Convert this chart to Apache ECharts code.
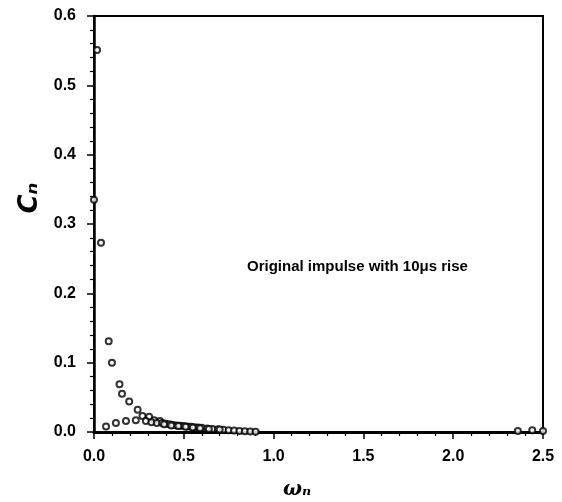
<!DOCTYPE html>
<html>
<head>
<meta charset="utf-8">
<script src="https://cdn.jsdelivr.net/npm/echarts@6/dist/echarts.min.js"></script>
<style>html,body{margin:0;padding:0;background:#fff;}#c{width:562px;height:502px;}</style>
</head>
<body>
<div id="c"></div>
<script>
// omega_n values and C_n values
const upperX = [0.0, 0.017, 0.039, 0.082, 0.100, 0.142, 0.156, 0.196, 0.243, 0.270, 0.307, 0.335, 0.367];
const upperY = [0.335, 0.551, 0.273, 0.131, 0.100, 0.069, 0.055, 0.044, 0.032, 0.023, 0.022, 0.017, 0.016];
const lowerX = [0.067, 0.122, 0.178, 0.233, 0.289, 0.320, 0.350];
const lowerY = [0.008, 0.013, 0.016, 0.017, 0.016, 0.014, 0.013];
const tailX = [0.38, 0.40, 0.42, 0.44, 0.46, 0.48, 0.50, 0.52, 0.54, 0.56, 0.58, 0.60, 0.63, 0.66, 0.69, 0.72, 0.75, 0.78, 0.81, 0.84, 0.87, 0.90,
  0.39, 0.43, 0.47, 0.51, 0.55, 0.59, 0.64, 0.70,
  2.36, 2.44, 2.50];
const tailY = [0.013, 0.012, 0.011, 0.010, 0.0095, 0.009, 0.0085, 0.008, 0.0075, 0.007, 0.0065, 0.006, 0.0052, 0.0045, 0.0038, 0.0032, 0.0026, 0.0021, 0.0016, 0.0012, 0.0008, 0.0005,
  0.011, 0.0095, 0.0085, 0.0075, 0.0065, 0.0055, 0.0045, 0.0035,
  0.0015, 0.0025, 0.0015];
const xTicks = ['0.0', '0.5', '1.0', '1.5', '2.0', '2.5'];
const yTicks = ['0.0', '0.1', '0.2', '0.3', '0.4', '0.5', '0.6'];
const annotation = 'Original impulse with 10μs rise';

const zip = (xs, ys) => xs.map((x, i) => [x, ys[i]]);
const chart = echarts.init(document.getElementById('c'), null, {renderer: 'canvas'});
const labelFont = {color: '#000', fontFamily: 'Liberation Sans, Arial', fontSize: 16, fontWeight: 'bold'};
const sym = {symbol: 'emptyCircle', symbolSize: 6, clip: false, itemStyle: {color: '#000', borderColor: '#000', borderWidth: 1.4}};
chart.setOption({
  animation: false,
  backgroundColor: '#fff',
  grid: {left: 94, right: 19, top: 16, bottom: 70, show: true, borderColor: '#000', borderWidth: 2, backgroundColor: 'transparent'},
  xAxis: {
    type: 'value', min: 0, max: 2.5, interval: 0.5,
    axisLine: {show: true, onZero: false, lineStyle: {color: '#000', width: 3}},
    axisTick: {show: true, inside: false, length: 7, lineStyle: {color: '#000', width: 1.5}},
    minorTick: {show: true, splitNumber: 5, length: 4, lineStyle: {color: '#000', width: 1.2}},
    splitLine: {show: false},
    axisLabel: Object.assign({margin: 17, formatter: (v) => xTicks[Math.round(v / 0.5)]}, labelFont)
  },
  yAxis: {
    type: 'value', min: 0, max: 0.6, interval: 0.1,
    axisLine: {show: true, onZero: false, lineStyle: {color: '#000', width: 2.5}},
    axisTick: {show: true, inside: false, length: 7, lineStyle: {color: '#000', width: 1.5}},
    minorTick: {show: true, splitNumber: 5, length: 4, lineStyle: {color: '#000', width: 1.2}},
    splitLine: {show: false},
    axisLabel: Object.assign({margin: 18, formatter: (v) => yTicks[Math.round(v / 0.1)]}, labelFont)
  },
  graphic: [
    {type: 'text', left: 247, top: 259, style: {text: annotation, fill: '#000', font: 'bold 15px "Liberation Sans", Arial'}},
    {type: 'text', x: 297, y: 490, style: {text: 'ωₙ', fill: '#000', font: 'italic bold 20px "DejaVu Serif"', textAlign: 'center', textVerticalAlign: 'middle'}},
    {type: 'text', x: 30, y: 198, rotation: Math.PI / 2, style: {text: 'Cₙ', fill: '#000', font: 'italic bold 26px "DejaVu Sans"', textAlign: 'center', textVerticalAlign: 'middle'}}
  ],
  series: [
    Object.assign({type: 'scatter', data: zip(upperX, upperY)}, sym),
    Object.assign({type: 'scatter', data: zip(lowerX, lowerY)}, sym),
    Object.assign({type: 'scatter', data: zip(tailX, tailY)}, sym)
  ]
});
</script>
</body>
</html>
